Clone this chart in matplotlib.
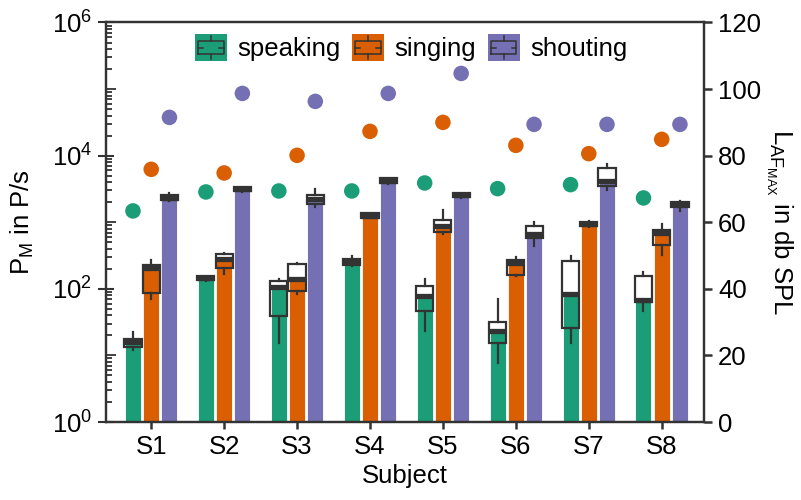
import numpy as np
import matplotlib
matplotlib.use('Agg')
import matplotlib.pyplot as plt
from matplotlib.legend_handler import HandlerBase
from matplotlib.patches import Rectangle, Patch
from matplotlib.lines import Line2D
from matplotlib.ticker import FixedLocator, NullFormatter, FuncFormatter

plt.rcParams['font.family'] = ['Liberation Sans', 'DejaVu Sans']
plt.rcParams['font.size'] = 18.5
plt.rcParams['mathtext.default'] = 'regular'

subjects = ['S1', 'S2', 'S3', 'S4', 'S5', 'S6', 'S7', 'S8']
tasks = ['speaking', 'singing', 'shouting']
colors = ['#1b9e77', '#d95f02', '#7570b3']

# particle emission rate P_M (P/s): median, quartiles, whisker ends
med = {'speaking': [16, 145, 108, 250, 79, 23, 85, 69],
       'singing':  [205, 280, 140, 1250, 885, 245, 930, 685],
       'shouting': [2330, 3130, 2210, 4200, 2540, 670, 4200, 1860]}
q1 = {'speaking': [13.3, 135, 39, 226, 46, 15.3, 25.7, 63],
      'singing':  [86, 204, 92, 1175, 708, 160, 870, 452],
      'shouting': [2140, 2920, 1860, 3850, 2370, 575, 3470, 1720]}
q3 = {'speaking': [17.6, 155, 132, 279, 110, 31.6, 260, 155],
      'singing':  [226, 331, 234, 1365, 1070, 275, 1000, 760],
      'shouting': [2540, 3350, 2540, 4570, 2720, 870, 6530, 1995]}
wlo = {'speaking': [12, 132, 15.5, 224, 23, 7.7, 15.3, 46],
       'singing':  [70, 166, 85, 1150, 660, 158, 850, 320],
       'shouting': [2065, 2880, 1680, 3800, 2340, 440, 3090, 1460]}
whi = {'speaking': [22.4, 158, 140, 313, 140, 70, 309, 176],
       'singing':  [269, 343, 245, 1380, 1515, 302, 1035, 933],
       'shouting': [2720, 3390, 3125, 4620, 2750, 1000, 7590, 2065]}

# maximum sound level L_AFmax (dB SPL)
spl = {'speaking': [63.4, 69.1, 69.4, 69.4, 71.8, 70.1, 71.3, 67.3],
       'singing':  [75.9, 74.8, 80.1, 87.3, 90.0, 83.1, 80.6, 84.9],
       'shouting': [91.5, 98.7, 96.3, 98.7, 104.7, 89.4, 89.4, 89.4]}

dark = '#333333'
x = np.arange(len(subjects))
offsets = [-0.25, 0.0, 0.25]


class BoxIconHandler(HandlerBase):
    def create_artists(self, legend, orig_handle, xdescent, ydescent,
                       width, height, fontsize, trans):
        x0, y0 = -xdescent, -ydescent
        fc = orig_handle.get_facecolor()
        arts = [Rectangle((x0, y0), width, height, fc=fc, ec='none', transform=trans)]
        bx0, bx1 = x0 + 0.1 * width, x0 + 0.9 * width
        by0, by1 = y0 + 0.27 * height, y0 + 0.73 * height
        xm, ym = x0 + 0.5 * width, y0 + 0.5 * height
        segs = [([bx0, bx1, bx1, bx0, bx0], [by0, by0, by1, by1, by0]),
                ([xm, xm], [by1, y0 + 0.92 * height]),
                ([xm, xm], [by0, y0 + 0.08 * height]),
                ([bx0, x0 + 0.25 * width], [ym, ym]),
                ([x0 + 0.75 * width, bx1], [ym, ym])]
        for sx, sy in segs:
            arts.append(Line2D(sx, sy, color=dark, lw=1.1, transform=trans))
        return arts


fig = plt.figure(figsize=(8.01, 5.0), dpi=100)
ax = fig.add_axes([106 / 801, 78 / 500, 598 / 801, 399.5 / 500])
ax2 = ax.twinx()

for k, t in enumerate(tasks):
    pos = x + offsets[k]
    ax.bar(pos, med[t], width=0.22, color=colors[k], edgecolor='white',
           linewidth=0.6, zorder=2)
    stats = [dict(med=med[t][i], q1=q1[t][i], q3=q3[t][i], whislo=wlo[t][i],
                  whishi=whi[t][i], fliers=[]) for i in range(len(subjects))]
    ax.bxp(stats, positions=pos, widths=0.235, patch_artist=True,
           showfliers=False, showcaps=False, manage_ticks=False,
           boxprops=dict(facecolor='none', edgecolor=dark, linewidth=1.6),
           medianprops=dict(color=dark, linewidth=3.8, solid_capstyle='butt'),
           whiskerprops=dict(color=dark, linewidth=1.6), zorder=3)
    ax2.scatter(pos, spl[t], s=125, color=colors[k], edgecolors='none', zorder=4)

ax.set_yscale('log')
ax.set_ylim(1, 1e6)
ax.set_xlim(-0.62, 7.58)
ax.set_xticks(x)
ax.set_xticklabels(subjects)
ax.set_xlabel('Subject', labelpad=4)
ax.set_ylabel('$P_M$ in P/s', labelpad=11)

major = [1e0, 1e2, 1e4, 1e6]
minor = [m * 10.0 ** e for e in range(6) for m in range(1, 10) if m * 10.0 ** e not in major]
ax.yaxis.set_major_locator(FixedLocator(major))
ax.yaxis.set_minor_locator(FixedLocator(minor))
ax.yaxis.set_major_formatter(FuncFormatter(lambda v, p: '$10^{%d}$' % round(np.log10(v))))
ax.yaxis.set_minor_formatter(NullFormatter())
ax.tick_params(axis='y', which='major', direction='inout', length=12, width=1.5,
               color=dark, pad=4)
ax.tick_params(axis='y', which='minor', direction='in', length=4.5, width=1.3,
               color=dark)
ax.tick_params(axis='y', which='both', right=False)
ax.tick_params(axis='x', direction='out', length=5, width=1.8, color=dark, pad=4)
for tk, loc in zip(ax.yaxis.get_minor_ticks(), minor):
    if abs(np.log10(loc) - round(np.log10(loc))) < 1e-9:
        tk.tick1line.set_markersize(7.5)

ax2.set_ylim(0, 120)
ax2.set_yticks(np.arange(0, 121, 20))
ax2.tick_params(axis='y', direction='out', length=6, width=1.8, color=dark, pad=4)
ax2.set_ylabel('$L_{AF_{MAX}}$ in db SPL', rotation=270, labelpad=24)

for a in (ax, ax2):
    for sp in a.spines.values():
        sp.set_linewidth(1.6)
        sp.set_color(dark)

handles = [Patch(facecolor=c) for c in colors]
ax2.legend(handles, tasks, loc='upper center', bbox_to_anchor=(0.51, 1.003),
           ncol=3, frameon=False, handler_map={Patch: BoxIconHandler()},
           handlelength=1.25, handleheight=1.25, handletextpad=0.4,
           columnspacing=0.45, borderaxespad=0.3, borderpad=0.2)

fig.savefig('out.png', dpi=100)
